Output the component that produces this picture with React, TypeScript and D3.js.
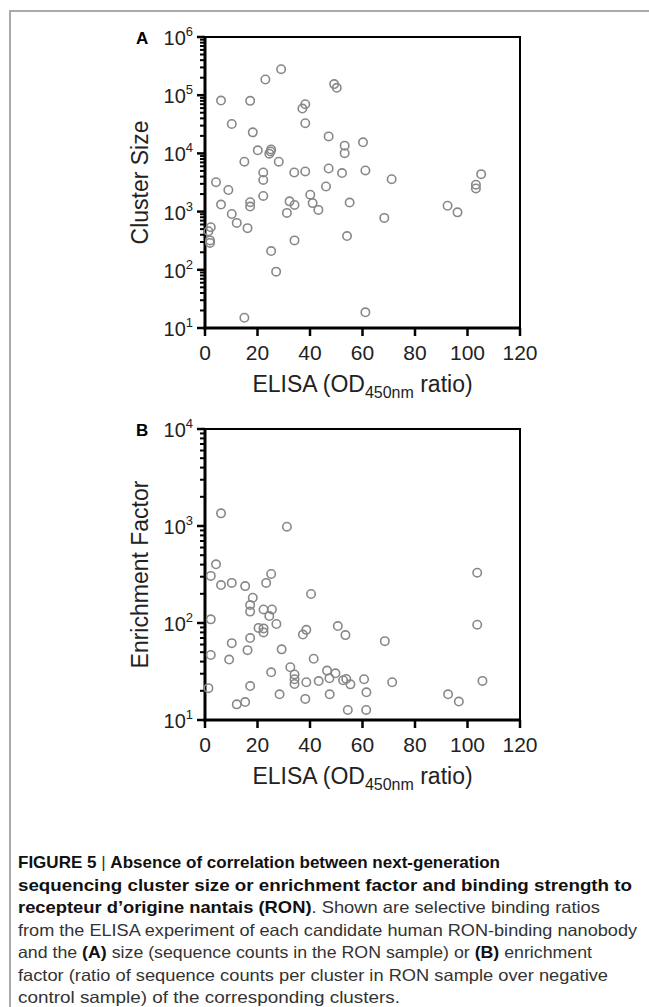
import React from "react";
import * as d3 from "d3";

const xTicks = [0, 20, 40, 60, 80, 100, 120];

// Panel A: ELISA ratio vs cluster size
const elisaA = [6.1, 17.2, 23.0, 29.0, 49.2, 50.2, 38.2, 37.1, 10.2, 38.2, 18.2, 47.1, 53.2, 60.2, 53.2, 20.1, 25.2, 24.5, 25.0, 28.1, 15.0, 22.2, 22.2, 34.0, 38.2, 47.1, 52.2, 61.1, 71.1, 4.2, 46.1, 8.9, 6.1, 10.2, 12.1, 16.2, 17.2, 17.2, 22.2, 32.2, 34.1, 31.2, 40.1, 41.0, 43.2, 55.1, 54.1, 68.3, 34.1, 25.2, 27.1, 15.0, 61.1, 2.2, 1.3, 1.9, 1.9, 92.4, 96.2, 103.2, 103.2, 105.2];
const clusterSize = [81000, 80000, 186000, 280000, 155000, 134000, 70000, 59000, 32000, 33000, 23000, 19600, 13600, 15500, 10100, 11300, 11700, 9900, 10800, 7200, 7200, 4700, 3500, 4700, 4900, 5500, 4600, 5100, 3600, 3200, 2700, 2350, 1320, 910, 640, 520, 1450, 1220, 1860, 1500, 1300, 950, 1950, 1400, 1070, 1430, 380, 780, 320, 210, 93, 15, 18.6, 540, 460, 320, 290, 1260, 970, 2900, 2500, 4400];

// Panel B: ELISA ratio vs enrichment factor
const elisaB = [6.1, 31.2, 4.2, 2.2, 6.1, 10.2, 15.3, 23.3, 25.2, 18.2, 40.4, 17.2, 17.2, 22.3, 25.5, 24.5, 27.2, 2.2, 20.4, 22.3, 22.3, 17.2, 38.6, 37.3, 50.6, 53.5, 68.5, 10.2, 16.2, 29.2, 2.2, 9.2, 41.4, 25.2, 32.5, 34.1, 34.1, 34.1, 38.6, 43.3, 46.5, 49.7, 47.4, 52.6, 53.8, 55.4, 60.6, 61.5, 71.3, 1.3, 17.2, 28.4, 47.5, 38.2, 12.1, 15.3, 54.4, 61.4, 103.7, 103.7, 105.7, 92.6, 96.7];
const enrichment = [1350, 984, 403, 306, 246, 259, 240, 259, 320, 182, 199, 153, 131, 138, 138, 118, 97.6, 109, 89, 88, 80, 70, 85, 76, 93, 75, 65, 62, 52.5, 53.5, 46.8, 42, 42.8, 31, 35, 29.5, 26.3, 23.5, 24.5, 25.2, 32.3, 30.3, 26.9, 25.7, 26.5, 23.3, 26.3, 19.3, 24.5, 21.3, 22.4, 18.4, 18.4, 16.5, 14.5, 15.3, 12.7, 12.7, 330, 96, 25.3, 18.4, 15.5];

const FONT = "'Liberation Sans', Arial, Helvetica, sans-serif";

type Seg = { t: string; b?: boolean };
const captionLines: { segs: Seg[]; w: number }[] = [
  { segs: [{ t: "FIGURE 5", b: true }, { t: " | " }, { t: "Absence of correlation between next-generation", b: true }], w: 482 },
  { segs: [{ t: "sequencing cluster size or enrichment factor and binding strength to", b: true }], w: 614 },
  { segs: [{ t: "recepteur d\u2019origine nantais (RON)", b: true }, { t: ". Shown are selective binding ratios" }], w: 582 },
  { segs: [{ t: "from the ELISA experiment of each candidate human RON-binding nanobody" }], w: 619 },
  { segs: [{ t: "and the " }, { t: "(A)", b: true }, { t: " size (sequence counts in the RON sample) or " }, { t: "(B)", b: true }, { t: " enrichment" }], w: 574 },
  { segs: [{ t: "factor (ratio of sequence counts per cluster in RON sample over negative" }], w: 590 },
  { segs: [{ t: "control sample) of the corresponding clusters." }], w: 382 },
];

function Panel({ xs, ys, top, bottom, domain, label, letter }: { xs: number[]; ys: number[]; top: number; bottom: number; domain: [number, number]; label: string; letter: string }) {
  const left = 205, right = 520;
  const x = d3.scaleLinear().domain([0, 120]).range([left, right]);
  const y = d3.scaleLog().domain(domain).range([bottom, top]);
  const allTicks = y.ticks();
  const decades: number[] = [];
  for (let e = Math.log10(domain[0]); e <= Math.log10(domain[1]) + 1e-9; e++) decades.push(e);
  return (
    <g fontFamily={FONT}>
      {/* frame */}
      <rect x={left} y={top} width={right - left} height={bottom - top} fill="none" stroke="#000" strokeWidth={2} />
      {/* minor ticks */}
      {allTicks.map((t, i) => {
        const major = Math.abs(Math.log10(t) - Math.round(Math.log10(t))) < 1e-9;
        return <line key={i} x1={left - (major ? 8 : 5)} x2={left} y1={y(t)} y2={y(t)} stroke="#000" strokeWidth={major ? 2.5 : 2} />;
      })}
      {/* y axis line */}
      <line x1={left} x2={left} y1={top - 1} y2={bottom + 1.5} stroke="#000" strokeWidth={3} />
      {/* x axis line */}
      <line x1={left - 1.5} x2={right + 1} y1={bottom} y2={bottom} stroke="#000" strokeWidth={3} />
      {xTicks.map((t) => (
        <g key={t}>
          <line x1={x(t)} x2={x(t)} y1={bottom} y2={bottom + 8} stroke="#000" strokeWidth={2.5} />
          <text x={x(t)} y={bottom + 32} fontSize={21} textAnchor="middle" fill="#222">{t}</text>
        </g>
      ))}
      {decades.map((e) => (
        <text key={e} x={193} y={y(Math.pow(10, e)) + 8} fontSize={20} textAnchor="end" fill="#222">
          10<tspan dy={-9} fontSize={13}>{e}</tspan>
        </text>
      ))}
      <text x={136} y={top + 7} fontSize={17} fontWeight="bold" fill="#000">{letter}</text>
      <text transform={`translate(148,${(top + bottom) / 2}) rotate(-90)`} fontSize={23} textAnchor="middle" fill="#222">{label}</text>
      <text x={(left + right) / 2} y={bottom + 64} fontSize={23} textAnchor="middle" fill="#222">
        ELISA (OD<tspan dy={6} fontSize={16}>450nm</tspan><tspan dy={-6}> ratio)</tspan>
      </text>
      {xs.map((v, i) => (
        <circle key={i} cx={x(v)} cy={y(ys[i])} r={4.2} fill="none" stroke="#888" strokeWidth={1.6} />
      ))}
    </g>
  );
}

export default function App() {
  return (
    <svg width={649} height={1007} style={{ position: "absolute", left: 0, top: 0, background: "#fff" }}>
      <rect x={0} y={0} width={649} height={1007} fill="#fff" />
      <line x1={9} x2={649} y1={11} y2={11} stroke="#aaa" strokeWidth={2} />
      <line x1={10} x2={10} y1={10} y2={1007} stroke="#aaa" strokeWidth={2} />
      <Panel xs={elisaA} ys={clusterSize} top={37} bottom={328} domain={[10, 1e6]} label="Cluster Size" letter="A" />
      <Panel xs={elisaB} ys={enrichment} top={429} bottom={720} domain={[10, 1e4]} label="Enrichment Factor" letter="B" />
      <g fontFamily={FONT} fontSize={16.5} fill="#222">
        {captionLines.map((ln, i) => (
          <text key={i} x={18} y={868 + i * 22.5} textLength={ln.w} lengthAdjust="spacingAndGlyphs">
            {ln.segs.map((s, j) => (
              <tspan key={j} fontWeight={s.b ? "bold" : "normal"} fill={s.b ? "#111" : "#333"}>{s.t}</tspan>
            ))}
          </text>
        ))}
      </g>
    </svg>
  );
}
